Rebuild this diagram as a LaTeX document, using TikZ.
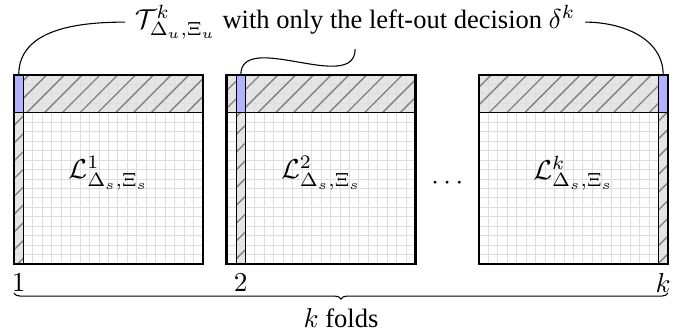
\documentclass[tikz,border=0pt]{standalone}
\usepackage{fontspec}
\setmainfont{Liberation Serif}
\usetikzlibrary{patterns.meta,decorations.pathreplacing,calc}
\tikzset{
  heldfill/.style={fill=gray!20},
  heldlines/.style={pattern={Lines[angle=45,distance=4.6pt,line width=0.5pt]},
                    pattern color=gray},
  leftout/.style={fill=blue!30},
  gridline/.style={draw=black!13, line width=0.35pt},
  foldbox/.style={draw=black, line width=1pt},
  brace/.style={decorate, decoration={brace, mirror, amplitude=2.2pt}}
}
\begin{document}
\begin{tikzpicture}[x=0.1215cm, y=0.1215cm,
    every node/.style={font=\fontsize{9.7}{11.6}\selectfont}]
\useasboundingbox (-1.48,-7.51) rectangle (71.43,27.94);
% one box per fold, shifted along x
\foreach \x/\c/\n in {0/0/1, 22.5/1/2, 49.2/19/k}{
  \begin{scope}[shift={(\x,0)}]
    \path[heldfill] (0,16) rectangle (20,20) (\c,0) rectangle (\c+1,16);
    \foreach \i in {1,...,19}
      \draw[gridline] (\i,0) -- (\i,20) (0,\i) -- (20,\i);
    \fill[leftout] (\c,16) rectangle (\c+1,20);
    \path[heldlines] (0,16) rectangle (\c,20) (\c+1,16) rectangle (20,20)
                     (\c,0) rectangle (\c+1,16);
    \draw (0,16) -- (20,16);
    \draw (\c,0) rectangle (\c+1,20);
    \draw[foldbox] (0,0) rectangle (20,20);
    \node (L\n) at (10,9.6) {$\mathcal{L}^{\n}_{\Delta_s,\Xi_s}$};
    \node[below] (num\n) at (\c+0.5,0) {$\n$};
    \coordinate (top\n) at (\c+0.5,20);
  \end{scope}
}
\node (dots) at (45.85,8.5) {$\cdots$};
% the left-out decision
\node (leftout) at (36.1,25.6)
  {$\mathcal{T}^k_{\Delta_u,\Xi_u}$ with only the left-out decision $\delta^k$};
\draw (leftout.west) to[out=180,in=90] (top1);
\draw (leftout.south) to[out=-90,in=90] (top2);
\draw (leftout.east) to[out=0,in=90] (topk);
% all folds
\coordinate (bl) at (0,-3.07);
\coordinate (br) at (69.2,-3.07);
\draw[brace] (bl) -- (br) node[midway, below=2pt] (folds) {$k$ folds};
\end{tikzpicture}
\end{document}
